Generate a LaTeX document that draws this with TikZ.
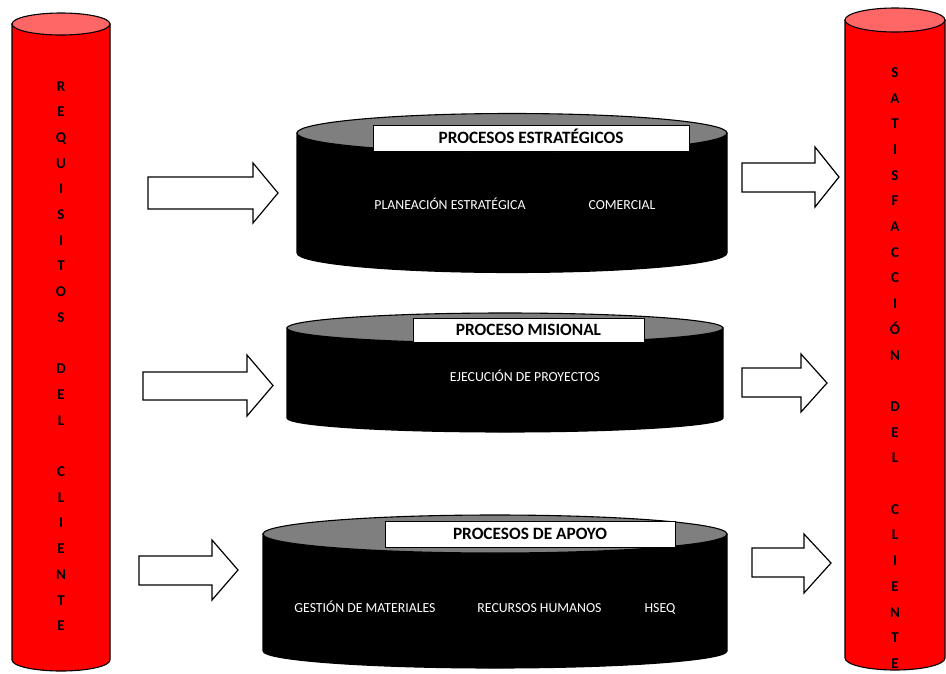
\documentclass[tikz,border=0pt]{standalone}
\usepackage{fontspec}
\setmainfont{Carlito}
\definecolor{cylred}{HTML}{FF0000}
\definecolor{cyltop}{HTML}{FF6666}
\definecolor{captop}{HTML}{7F7F7F}

\begin{document}
\begin{tikzpicture}[x=1pt,y=-1pt,line width=1.1pt,
  blockarrow/.style={draw=black,fill=white,line width=1.2pt,line join=miter},
  header/.style={draw=black,fill=white,line width=0.8pt,inner sep=0pt,
    text height=11pt,text depth=0pt,font=\bfseries\fontsize{17.3}{20}\selectfont},
  proc/.style={text=white,text height=9pt,text depth=0pt,
    font=\fontsize{13.8}{16}\selectfont},
  letters/.style={align=center,font=\bfseries\fontsize{15}{25.7}\selectfont}]
  \useasboundingbox (0,0) rectangle (946,673);

  % cilindro izquierdo
  \coordinate (LT) at (61,24);
  \filldraw[fill=cylred] (12,24) -- (12,660)
    arc[start angle=180,end angle=360,x radius=49pt,y radius=11pt] -- (110,24) -- cycle;
  \filldraw[fill=cyltop] (LT) ellipse [x radius=49pt,y radius=11pt];
  \node[letters] (req) at (61,356) {R\\E\\Q\\U\\I\\S\\I\\T\\O\\S\\~\\D\\E\\L\\~\\C\\L\\I\\E\\N\\T\\E};

  % cilindro derecho
  \coordinate (RT) at (895,20);
  \filldraw[fill=cylred] (845,20) -- (845,658)
    arc[start angle=180,end angle=360,x radius=50pt,y radius=12pt] -- (945,20) -- cycle;
  \filldraw[fill=cyltop] (RT) ellipse [x radius=50pt,y radius=12pt];
  \node[letters] (sat) at (895,368) {S\\A\\T\\I\\S\\F\\A\\C\\C\\I\\Ó\\N\\~\\D\\E\\L\\~\\C\\L\\I\\E\\N\\T\\E};

  % procesos estrategicos
  \coordinate (ET) at (512,133);
  \filldraw[fill=black] (297,133) -- (297,253)
    arc[start angle=180,end angle=360,x radius=215pt,y radius=19.5pt] -- (727,133) -- cycle;
  \filldraw[fill=captop] (ET) ellipse [x radius=215pt,y radius=19.5pt];
  \node[header,minimum width=316pt,minimum height=26pt] (estr) at (531,138) {PROCESOS ESTRATÉGICOS};
  \node[proc] (plan) at (450,205) {PLANEACIÓN ESTRATÉGICA};
  \node[proc] (com) at (622,205) {COMERCIAL};

  % proceso misional
  \coordinate (MT) at (505,328);
  \filldraw[fill=black] (287,328) -- (287,418)
    arc[start angle=180,end angle=360,x radius=218pt,y radius=14pt] -- (723,328) -- cycle;
  \filldraw[fill=captop] (MT) ellipse [x radius=218pt,y radius=15pt];
  \node[header,minimum width=231pt,minimum height=24pt] (mis) at (528.5,330) {PROCESO MISIONAL};
  \node[proc] (ejec) at (525,377) {EJECUCIÓN DE PROYECTOS};

  % procesos de apoyo
  \coordinate (AT) at (495,534);
  \filldraw[fill=black] (263,534) -- (263,651)
    arc[start angle=180,end angle=360,x radius=232pt,y radius=17pt] -- (727,534) -- cycle;
  \filldraw[fill=captop] (AT) ellipse [x radius=232pt,y radius=19pt];
  \node[header,minimum width=290pt,minimum height=26pt] (apo) at (530,534) {PROCESOS DE APOYO};
  \node[proc] (gest) at (365,608) {GESTIÓN DE MATERIALES};
  \node[proc] (rrhh) at (539.5,608) {RECURSOS HUMANOS};
  \node[proc] (hseq) at (660,608) {HSEQ};

  % flechas de entrada
  \draw[blockarrow] (148,177) -- (253,177) -- (253,163) -- (278,193) -- (253,223) -- (253,209) -- (148,209) -- cycle;
  \draw[blockarrow] (143,372) -- (247,372) -- (247,355) -- (273,385.5) -- (247,416) -- (247,400) -- (143,400) -- cycle;
  \draw[blockarrow] (139,556) -- (212,556) -- (212,540) -- (238,570) -- (212,600) -- (212,585) -- (139,585) -- cycle;

  % flechas de salida
  \draw[blockarrow] (742,163) -- (815,163) -- (815,147) -- (839,177) -- (815,207) -- (815,192) -- (742,192) -- cycle;
  \draw[blockarrow] (742,368) -- (801,368) -- (801,354) -- (827,383) -- (801,412) -- (801,397) -- (742,397) -- cycle;
  \draw[blockarrow] (752,548) -- (804,548) -- (804,534) -- (831,563) -- (804,593) -- (804,577) -- (752,577) -- cycle;
\end{tikzpicture}
\end{document}
